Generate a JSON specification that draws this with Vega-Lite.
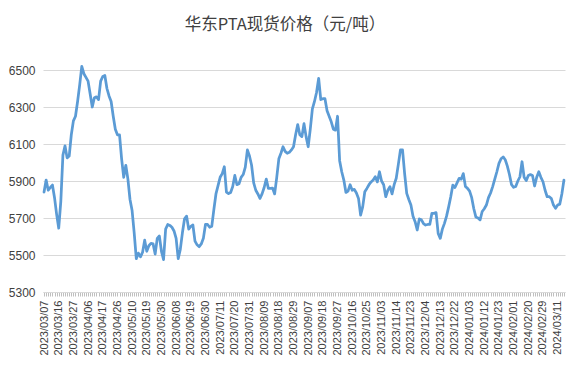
{
  "$schema": "https://vega.github.io/schema/vega-lite/v6.json",
  "autosize": {"type": "none"},
  "width": 522,
  "height": 222,
  "padding": {"left": 43, "top": 70, "right": 15, "bottom": 79},
  "background": "white",
  "title": {"text": "华东PTA现货价格（元/吨）", "font": "Noto Sans CJK SC", "fontSize": 16.5, "fontWeight": "normal", "color": "#404040", "anchor": "middle", "frame": "group", "dx": -19, "offset": 31},
  "config": {"view": {"stroke": null}},
  "data": {"values": [
    {"d":"2023/03/07","v":5840},{"d":"2023/03/08","v":5905},{"d":"2023/03/09","v":5850},{"d":"2023/03/10","v":5865},{"d":"2023/03/13","v":5878},{"d":"2023/03/14","v":5810},{"d":"2023/03/15","v":5720},
    {"d":"2023/03/16","v":5645},{"d":"2023/03/17","v":5790},{"d":"2023/03/20","v":6040},{"d":"2023/03/21","v":6090},{"d":"2023/03/22","v":6025},{"d":"2023/03/23","v":6035},{"d":"2023/03/24","v":6150},
    {"d":"2023/03/27","v":6225},{"d":"2023/03/28","v":6250},{"d":"2023/03/29","v":6330},{"d":"2023/03/30","v":6420},{"d":"2023/03/31","v":6520},{"d":"2023/04/03","v":6480},{"d":"2023/04/04","v":6460},
    {"d":"2023/04/06","v":6440},{"d":"2023/04/07","v":6370},{"d":"2023/04/10","v":6300},{"d":"2023/04/11","v":6350},{"d":"2023/04/12","v":6355},{"d":"2023/04/13","v":6340},{"d":"2023/04/14","v":6440},
    {"d":"2023/04/17","v":6465},{"d":"2023/04/18","v":6470},{"d":"2023/04/19","v":6400},{"d":"2023/04/20","v":6360},{"d":"2023/04/21","v":6330},{"d":"2023/04/24","v":6250},{"d":"2023/04/25","v":6180},
    {"d":"2023/04/26","v":6150},{"d":"2023/04/27","v":6150},{"d":"2023/04/28","v":6020},{"d":"2023/05/04","v":5920},{"d":"2023/05/05","v":5985},{"d":"2023/05/08","v":5910},{"d":"2023/05/09","v":5800},
    {"d":"2023/05/10","v":5740},{"d":"2023/05/11","v":5620},{"d":"2023/05/12","v":5480},{"d":"2023/05/15","v":5510},{"d":"2023/05/16","v":5490},{"d":"2023/05/17","v":5515},{"d":"2023/05/18","v":5580},
    {"d":"2023/05/19","v":5520},{"d":"2023/05/22","v":5550},{"d":"2023/05/23","v":5563},{"d":"2023/05/24","v":5560},{"d":"2023/05/25","v":5505},{"d":"2023/05/26","v":5590},{"d":"2023/05/29","v":5603},
    {"d":"2023/05/30","v":5520},{"d":"2023/05/31","v":5475},{"d":"2023/06/01","v":5640},{"d":"2023/06/02","v":5665},{"d":"2023/06/05","v":5660},{"d":"2023/06/06","v":5650},{"d":"2023/06/07","v":5630},
    {"d":"2023/06/08","v":5590},{"d":"2023/06/09","v":5480},{"d":"2023/06/12","v":5530},{"d":"2023/06/13","v":5620},{"d":"2023/06/14","v":5695},{"d":"2023/06/15","v":5710},{"d":"2023/06/16","v":5640},
    {"d":"2023/06/19","v":5655},{"d":"2023/06/20","v":5662},{"d":"2023/06/21","v":5575},{"d":"2023/06/26","v":5555},{"d":"2023/06/27","v":5545},{"d":"2023/06/28","v":5560},{"d":"2023/06/29","v":5590},
    {"d":"2023/06/30","v":5665},{"d":"2023/07/03","v":5665},{"d":"2023/07/04","v":5650},{"d":"2023/07/05","v":5655},{"d":"2023/07/06","v":5745},{"d":"2023/07/07","v":5830},{"d":"2023/07/10","v":5875},
    {"d":"2023/07/11","v":5920},{"d":"2023/07/12","v":5940},{"d":"2023/07/13","v":5977},{"d":"2023/07/14","v":5840},{"d":"2023/07/17","v":5832},{"d":"2023/07/18","v":5838},{"d":"2023/07/19","v":5870},
    {"d":"2023/07/20","v":5930},{"d":"2023/07/21","v":5880},{"d":"2023/07/24","v":5885},{"d":"2023/07/25","v":5920},{"d":"2023/07/26","v":5935},{"d":"2023/07/27","v":5975},{"d":"2023/07/28","v":6068},
    {"d":"2023/07/31","v":6035},{"d":"2023/08/01","v":5985},{"d":"2023/08/02","v":5890},{"d":"2023/08/03","v":5850},{"d":"2023/08/04","v":5830},{"d":"2023/08/07","v":5806},{"d":"2023/08/08","v":5830},
    {"d":"2023/08/09","v":5865},{"d":"2023/08/10","v":5910},{"d":"2023/08/11","v":5860},{"d":"2023/08/14","v":5860},{"d":"2023/08/15","v":5862},{"d":"2023/08/16","v":5830},{"d":"2023/08/17","v":5920},
    {"d":"2023/08/18","v":6020},{"d":"2023/08/21","v":6050},{"d":"2023/08/22","v":6085},{"d":"2023/08/23","v":6060},{"d":"2023/08/24","v":6050},{"d":"2023/08/25","v":6055},{"d":"2023/08/28","v":6068},
    {"d":"2023/08/29","v":6085},{"d":"2023/08/30","v":6150},{"d":"2023/08/31","v":6205},{"d":"2023/09/01","v":6150},{"d":"2023/09/04","v":6140},{"d":"2023/09/05","v":6210},{"d":"2023/09/06","v":6140},
    {"d":"2023/09/07","v":6085},{"d":"2023/09/08","v":6180},{"d":"2023/09/11","v":6290},{"d":"2023/09/12","v":6330},{"d":"2023/09/13","v":6380},{"d":"2023/09/14","v":6455},{"d":"2023/09/15","v":6340},
    {"d":"2023/09/18","v":6345},{"d":"2023/09/19","v":6345},{"d":"2023/09/20","v":6280},{"d":"2023/09/21","v":6250},{"d":"2023/09/22","v":6220},{"d":"2023/09/25","v":6180},{"d":"2023/09/26","v":6175},
    {"d":"2023/09/27","v":6250},{"d":"2023/09/28","v":6010},{"d":"2023/10/09","v":5950},{"d":"2023/10/10","v":5905},{"d":"2023/10/11","v":5838},{"d":"2023/10/12","v":5845},{"d":"2023/10/13","v":5880},
    {"d":"2023/10/16","v":5850},{"d":"2023/10/17","v":5855},{"d":"2023/10/18","v":5835},{"d":"2023/10/19","v":5806},{"d":"2023/10/20","v":5716},{"d":"2023/10/23","v":5760},{"d":"2023/10/24","v":5842},
    {"d":"2023/10/25","v":5860},{"d":"2023/10/26","v":5880},{"d":"2023/10/27","v":5895},{"d":"2023/10/30","v":5905},{"d":"2023/10/31","v":5923},{"d":"2023/11/01","v":5895},{"d":"2023/11/02","v":5950},
    {"d":"2023/11/03","v":5900},{"d":"2023/11/06","v":5880},{"d":"2023/11/07","v":5815},{"d":"2023/11/08","v":5850},{"d":"2023/11/09","v":5869},{"d":"2023/11/10","v":5830},{"d":"2023/11/13","v":5880},
    {"d":"2023/11/14","v":5915},{"d":"2023/11/15","v":5990},{"d":"2023/11/16","v":6068},{"d":"2023/11/17","v":6068},{"d":"2023/11/20","v":5940},{"d":"2023/11/21","v":5833},{"d":"2023/11/22","v":5800},
    {"d":"2023/11/23","v":5770},{"d":"2023/11/24","v":5710},{"d":"2023/11/27","v":5680},{"d":"2023/11/28","v":5635},{"d":"2023/11/29","v":5695},{"d":"2023/11/30","v":5690},{"d":"2023/12/01","v":5670},
    {"d":"2023/12/04","v":5662},{"d":"2023/12/05","v":5665},{"d":"2023/12/06","v":5665},{"d":"2023/12/07","v":5725},{"d":"2023/12/08","v":5725},{"d":"2023/12/11","v":5729},{"d":"2023/12/12","v":5617},
    {"d":"2023/12/13","v":5590},{"d":"2023/12/14","v":5640},{"d":"2023/12/15","v":5671},{"d":"2023/12/18","v":5710},{"d":"2023/12/19","v":5760},{"d":"2023/12/20","v":5815},{"d":"2023/12/21","v":5878},
    {"d":"2023/12/22","v":5865},{"d":"2023/12/25","v":5890},{"d":"2023/12/26","v":5914},{"d":"2023/12/27","v":5910},{"d":"2023/12/28","v":5940},{"d":"2023/12/29","v":5870},{"d":"2024/01/02","v":5860},
    {"d":"2024/01/03","v":5845},{"d":"2024/01/04","v":5810},{"d":"2024/01/05","v":5750},{"d":"2024/01/08","v":5705},{"d":"2024/01/09","v":5700},{"d":"2024/01/10","v":5690},{"d":"2024/01/11","v":5735},
    {"d":"2024/01/12","v":5750},{"d":"2024/01/15","v":5770},{"d":"2024/01/16","v":5810},{"d":"2024/01/17","v":5835},{"d":"2024/01/18","v":5870},{"d":"2024/01/19","v":5910},{"d":"2024/01/22","v":5950},
    {"d":"2024/01/23","v":5995},{"d":"2024/01/24","v":6020},{"d":"2024/01/25","v":6030},{"d":"2024/01/26","v":6015},{"d":"2024/01/29","v":5980},{"d":"2024/01/30","v":5935},{"d":"2024/01/31","v":5880},
    {"d":"2024/02/01","v":5866},{"d":"2024/02/02","v":5870},{"d":"2024/02/05","v":5900},{"d":"2024/02/06","v":5923},{"d":"2024/02/07","v":6004},{"d":"2024/02/08","v":5920},{"d":"2024/02/19","v":5902},
    {"d":"2024/02/20","v":5930},{"d":"2024/02/21","v":5935},{"d":"2024/02/22","v":5930},{"d":"2024/02/23","v":5873},{"d":"2024/02/26","v":5920},{"d":"2024/02/27","v":5950},{"d":"2024/02/28","v":5920},
    {"d":"2024/02/29","v":5896},{"d":"2024/03/01","v":5850},{"d":"2024/03/04","v":5815},{"d":"2024/03/05","v":5815},{"d":"2024/03/06","v":5805},{"d":"2024/03/07","v":5770},{"d":"2024/03/08","v":5752},
    {"d":"2024/03/11","v":5770},{"d":"2024/03/12","v":5775},{"d":"2024/03/13","v":5830},{"d":"2024/03/14","v":5905}
  ]},
  "mark": {"type": "line", "color": "#5b9bd5", "strokeWidth": 2.75, "strokeJoin": "round", "strokeCap": "round"},
  "encoding": {
    "x": {"field": "d", "type": "ordinal", "sort": null, "title": null,
      "scale": {"type": "point", "padding": 0.5},
      "axis": {
        "labelAngle": -90, "labelAlign": "right", "labelBaseline": "middle",
        "labelFont": "Liberation Sans", "labelFontSize": 11, "labelColor": "#404040",
        "labelOverlap": false, "labelPadding": 4,
        "labelExpr": "indexof(['2023/03/07','2023/03/16','2023/03/27','2023/04/06','2023/04/17','2023/04/26','2023/05/10','2023/05/19','2023/05/30','2023/06/08','2023/06/19','2023/06/30','2023/07/11','2023/07/20','2023/07/31','2023/08/09','2023/08/18','2023/08/29','2023/09/07','2023/09/18','2023/09/27','2023/10/16','2023/10/25','2023/11/03','2023/11/14','2023/11/23','2023/12/04','2023/12/13','2023/12/22','2024/01/03','2024/01/12','2024/01/23','2024/02/01','2024/02/20','2024/02/29','2024/03/11'], datum.value) >= 0 ? datum.value : ''",
        "domainColor": "#d9d9d9", "tickColor": "#bfbfbf", "tickSize": 4, "grid": false
      }
    },
    "y": {"field": "v", "type": "quantitative", "title": null,
      "scale": {"domain": [5300, 6500], "nice": false, "zero": false},
      "axis": {
        "values": [5300, 5500, 5700, 5900, 6100, 6300, 6500], "format": "d",
        "labelFont": "Liberation Sans", "labelFontSize": 12, "labelColor": "#404040", "labelPadding": 8,
        "domain": false, "ticks": false, "gridColor": "#d9d9d9", "gridWidth": 1
      }
    }
  }
}
